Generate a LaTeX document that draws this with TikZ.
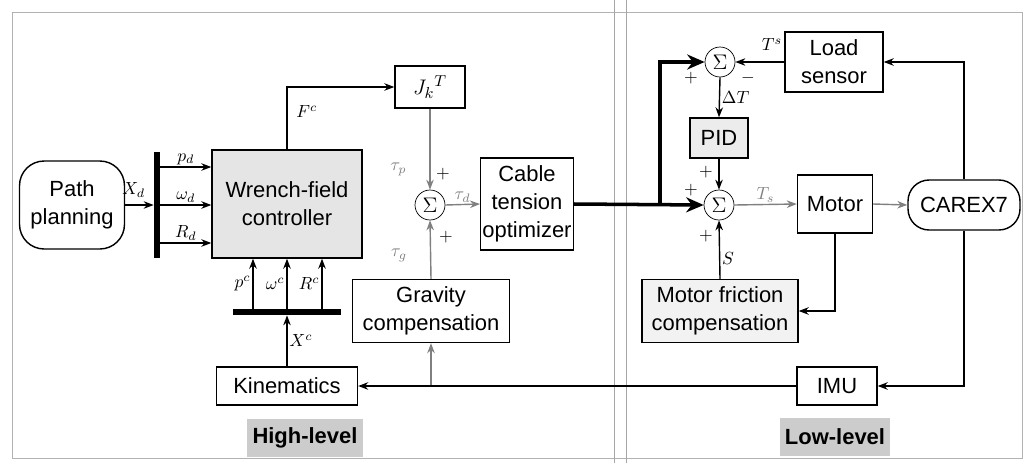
\documentclass[tikz,border=0pt]{standalone}
\usepackage{fontspec}
\setmainfont{Liberation Sans}
\usetikzlibrary{arrows.meta,positioning,calc}

\begin{document}
\begin{tikzpicture}[
  x=0.02cm, y=-0.02cm,
  every node/.style = {font=\fontsize{12.5}{16}\selectfont},
  blk/.style  = {draw, thick, align=center, inner sep=1pt},
  term/.style = {blk, rounded corners=14pt},
  sum/.style  = {circle, draw, minimum size=6mm, inner sep=0pt},
  bus/.style  = {fill=black, inner sep=0pt},
  lbl/.style  = {font=\fontsize{10}{11}\selectfont, inner sep=1pt},
  lvl/.style  = {fill=gray!40, font=\bfseries\fontsize{12.5}{14}\selectfont, minimum height=0.76cm, inner sep=3pt},
  arr/.style  = {-{Stealth[length=2mm]}, thick},
  fat/.style  = {-{Stealth[length=3.5mm, width=3mm]}, line width=2pt},
]
\useasboundingbox (0,0) rectangle (1026,463);
\draw[gray!60] (12,12) rectangle (1022,458);
\draw[gray!70] (614,0) -- (614,463) (626,0) -- (626,463);

% high level
\node[term, minimum width=2.1cm, minimum height=1.76cm] (pp) at (72,205) {Path\\planning};
\node[bus, minimum width=1.2mm, minimum height=2.12cm] (busd) at (157,205) {};
\node[blk, fill=gray!20, minimum width=3cm, minimum height=2.16cm] (wfc) at (287,204) {Wrench-field\\controller};
\node[blk, minimum width=1.4cm, minimum height=0.84cm] (jk) at (430,87) {${J_k}^{T}$};
\node[sum] (s1) at (430,205) {$\Sigma$};
\node[blk, minimum width=3.14cm, minimum height=1.26cm] (grav) at (431,311) {Gravity\\compensation};
\node[blk, minimum width=1.8cm, minimum height=1.84cm] (cto) at (527,204) {Cable\\tension\\optimizer};
\node[bus, minimum width=2.16cm, minimum height=1.2mm] (busc) at (287,312) {};
\node[blk, minimum width=2.82cm, minimum height=0.76cm] (kin) at (287,386) {Kinematics};

% low level
\node[sum] (s3) at (720,62) {$\Sigma$};
\node[blk, minimum width=1.96cm, minimum height=1.2cm] (ls) at (834,62) {Load\\sensor};
\node[blk, fill=gray!15, minimum width=1.16cm, minimum height=0.8cm] (pid) at (719,138) {PID};
\node[sum] (s2) at (719,205) {$\Sigma$};
\node[blk, minimum width=1.5cm, minimum height=1.16cm] (mot) at (835,204) {Motor};
\node[term, rounded corners=12pt, minimum width=2.24cm, minimum height=1cm] (cx) at (964,205) {CAREX7};
\node[blk, fill=gray!10, minimum width=3.12cm, minimum height=1.26cm] (mfc) at (720,311) {Motor friction\\compensation};
\node[blk, minimum width=1.6cm, minimum height=0.76cm] (imu) at (837,386) {IMU};

\node[lvl] (hl) at (305,438) {High-level};
\node[lvl] (ll) at (835,437) {Low-level};

% high level signals
\draw[arr] (pp.east) -- node[lbl, pos=0.3, above=3pt]{$X_d$} (busd.west |- pp.east);
\foreach \yy/\lab in {167/{p_d}, 205/{\omega_d}, 243/{R_d}}
  \draw[arr] (busd.east |- 0,\yy) -- node[lbl, above]{$\lab$} (wfc.west |- 0,\yy);
\foreach \xx/\lab in {253/{p^c}, 287/{\omega^c}, 322/{R^c}}
  \draw[arr] (busc.north -| \xx,0) -- node[lbl, left]{$\lab$} (wfc.south -| \xx,0);
\draw[arr] (kin.north) -- node[lbl, right]{$X^c$} (busc.south);
\draw[arr] (wfc.north) |- node[lbl, pos=0.3, right=4pt]{$F^c$} (jk.west);
\draw[arr, gray] (jk.south) -- node[lbl, pos=0.75, left=12pt]{$\tau_p$} (s1.north);
\draw[arr, gray] (grav.north) -- node[lbl, pos=0.4, left=12pt]{$\tau_g$} (s1.south);
\draw[arr, gray] (s1.east) -- node[lbl, above]{$\tau_d$} (cto.west);
\node[lbl] at (443,174) {$+$};
\node[lbl] at (446,237) {$+$};
\draw[arr, gray] (grav.south |- kin.east) -- (grav.south);

% low level signals
\coordinate (br) at (660,205);
\draw[fat] (cto.east) -- (s2.west);
\draw[fat, line join=miter] (br) |- (s3.west);
\draw[arr] (ls.west) -- node[lbl, pos=0.25, above=5pt]{$T^s$} (s3.east);
\draw[arr] (s3.south) -- node[lbl, right]{$\Delta T$} (pid.north);
\draw[arr] (pid.south) -- (s2.north);
\draw[arr] (mfc.north) -- node[lbl, pos=0.35, right]{$S$} (s2.south);
\draw[arr, gray] (s2.east) -- node[lbl, above]{$T_s$} (mot.west);
\draw[arr, gray] (mot.east) -- (cx.west);
\draw[arr] (cx.north) |- (ls.east);
\draw[arr] (mot.south) |- (mfc.east);
\draw[arr] (cx.south) |- (imu.east);
\draw[arr] (imu.west) -- (kin.east);
\node[lbl] at (691,78) {$+$};
\node[lbl] at (748,78) {$-$};
\node[lbl] at (706,172) {$+$};
\node[lbl] at (691,190) {$+$};
\node[lbl] at (706,236) {$+$};
\end{tikzpicture}
\end{document}
